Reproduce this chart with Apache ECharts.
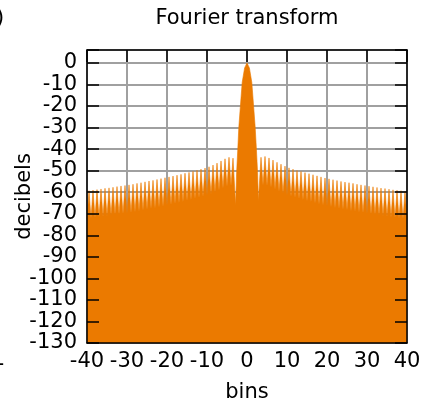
<!DOCTYPE html>
<html>
<head>
<meta charset="utf-8">
<script src="https://cdn.jsdelivr.net/npm/echarts@6/dist/echarts.min.js"></script>
<style>
html,body{margin:0;padding:0;background:#fff;}
#chart{width:424px;height:404px;}
</style>
</head>
<body>
<div id="chart"></div>
<script>
// x tick labels and y tick labels
const xTicks = [-40, -30, -20, -10, 0, 10, 20, 30, 40];
const yTicks = [0, -10, -20, -30, -40, -50, -60, -70, -80, -90, -100, -110, -120, -130];

// side-lobe peaks (dB) at bins -39.5 ... -3.5
const leftPeakDb = [-59.3,-59.0,-58.8,-58.5,-58.2,-58.0,-57.7,-57.4,-57.1,-56.9,
  -56.6,-56.3,-55.9,-55.6,-55.2,-54.8,-54.5,-54.1,-53.7,-53.3,
  -52.9,-52.5,-52.1,-51.7,-51.2,-50.8,-50.3,-49.8,-49.3,-48.8,
  -48.2,-47.4,-46.5,-45.5,-44.5,-43.8,-44.2];
// dips (dB) at bins -40 ... -4
const leftNullDb = [-72.5,-72.0,-71.8,-71.5,-71.3,-71.0,-70.8,-70.5,-70.3,-70.0,
  -69.8,-69.5,-69.2,-68.8,-68.5,-68.0,-67.7,-67.4,-67.0,-66.6,
  -66.2,-65.8,-65.4,-65.0,-64.5,-64.0,-63.6,-63.1,-62.6,-62.0,
  -61.5,-60.8,-60.0,-59.2,-58.2,-57.4,-57.0];
// side-lobe peaks (dB) at bins 3.5 ... 39.5
const rightPeakDb = [-43.8,-43.4,-44.1,-45.1,-46.1,-47.0,-47.9,-48.7,-49.3,-49.9,
  -50.4,-50.9,-51.4,-51.9,-52.4,-52.9,-53.4,-53.8,-54.2,-54.6,
  -55.0,-55.3,-55.6,-55.9,-56.3,-56.6,-56.9,-57.2,-57.5,-57.8,
  -58.1,-58.3,-58.6,-58.9,-59.1,-59.3,-59.5];
// dips (dB) at bins 4 ... 40
const rightNullDb = [-56.8,-57.0,-57.8,-58.8,-59.7,-60.6,-61.4,-62.0,-62.6,-63.1,
  -63.6,-64.1,-64.6,-65.1,-65.6,-66.1,-66.5,-66.9,-67.3,-67.7,
  -68.0,-68.3,-68.7,-69.0,-69.3,-69.6,-69.9,-70.2,-70.5,-70.8,
  -71.1,-71.3,-71.6,-71.9,-72.1,-72.3,-72.5];
// main lobe
const mainNullBins = [-2.85, 2.85];
const mainNullDb = [-66, -64];
const mainLobeBins = [-2.6, -2.3, -2.05, -1.65, -1.2, -0.6, 0, 0.6, 1.2, 1.65, 2.05, 2.35, 2.65];
const mainLobeDb = [-51, -40, -30, -20, -9, -2.3, 0, -2.3, -9, -20, -30, -40, -51];

const pts = [];
leftNullDb.forEach((v, i) => pts.push([-40 + i, v]));
leftPeakDb.forEach((v, i) => pts.push([-39.5 + i, v]));
rightNullDb.forEach((v, i) => pts.push([4 + i, v]));
rightPeakDb.forEach((v, i) => pts.push([3.5 + i, v]));
mainNullBins.forEach((b, i) => pts.push([b, mainNullDb[i]]));
mainLobeBins.forEach((b, i) => pts.push([b, mainLobeDb[i]]));
pts.sort((a, b) => a[0] - b[0]);

const FONT = 'DejaVu Sans';
const ORANGE = '#eb7a00';
const chart = echarts.init(document.getElementById('chart'), null, {renderer: 'canvas'});

const tickAxisX = (pos, ticks) => ({
  type: 'value', position: pos, min: -40, max: 40, interval: 10, z: 10,
  axisLine: {show: true, onZero: false, lineStyle: {color: '#000', width: 1.5}},
  axisTick: {show: ticks, inside: true, length: 12, lineStyle: {color: '#000', width: 1.5}},
  axisLabel: {show: false}, splitLine: {show: false}
});
const tickAxisY = (pos) => ({
  type: 'value', position: pos, min: -130, max: 6, interval: 10, z: 10,
  axisLine: {show: true, onZero: false, lineStyle: {color: '#000', width: 1.5}},
  axisTick: {show: true, inside: true, length: 12, lineStyle: {color: '#000', width: 1.5}},
  axisLabel: {show: false}, splitLine: {show: false}
});

chart.setOption({
  animation: false,
  backgroundColor: '#fff',
  grid: {left: 87, right: 17, top: 50, bottom: 61, containLabel: false, outerBoundsMode: 'none'},
  xAxis: [
    {
      type: 'value', position: 'bottom', min: -40, max: 40, interval: 10, z: 0,
      name: 'bins', nameLocation: 'middle', nameGap: 39, nameMoveOverlap: false,
      nameTextStyle: {fontFamily: FONT, fontSize: 21, color: '#000'},
      axisLine: {show: false}, axisTick: {show: false},
      axisLabel: {show: true, margin: 8, fontFamily: FONT, fontSize: 21, color: '#000',
        formatter: v => xTicks.indexOf(v) >= 0 ? String(v) : ''},
      splitLine: {show: true, lineStyle: {color: '#a0a0a0', width: 2}}
    },
    tickAxisX('top', true),
    tickAxisX('bottom', false)
  ],
  yAxis: [
    {
      type: 'value', position: 'left', min: -130, max: 6, interval: 10, z: 0,
      name: 'decibels', nameLocation: 'middle', nameGap: 52, nameMoveOverlap: false,
      nameTextStyle: {fontFamily: FONT, fontSize: 21, color: '#000'},
      axisLine: {show: false}, axisTick: {show: false},
      axisLabel: {show: true, margin: 10, fontFamily: FONT, fontSize: 21, color: '#000',
        formatter: v => yTicks.indexOf(v) >= 0 ? String(v) : ''},
      splitLine: {show: true, lineStyle: {color: '#a0a0a0', width: 2}}
    },
    tickAxisY('right'),
    tickAxisY('left')
  ],
  graphic: [
    {type: 'text', x: 247, y: 19, style: {text: 'Fourier transform',
      font: '21px "DejaVu Sans"', fill: '#000', textAlign: 'center', textVerticalAlign: 'middle'}},
    {type: 'text', x: -4, y: 19, style: {text: ')', font: '21px "DejaVu Sans"', fill: '#000',
      textAlign: 'left', textVerticalAlign: 'middle'}},
    {type: 'text', x: 5, y: 360, style: {text: '1', font: '21px "DejaVu Sans"', fill: '#000',
      textAlign: 'right', textVerticalAlign: 'middle'}}
  ],
  series: [{
    type: 'line', xAxisIndex: 0, yAxisIndex: 0,
    data: pts, showSymbol: false, symbol: 'none', sampling: null,
    lineStyle: {color: ORANGE, width: 0.6},
    areaStyle: {color: ORANGE, opacity: 1, origin: 'start'},
    z: 2
  }]
});
</script>
</body>
</html>
